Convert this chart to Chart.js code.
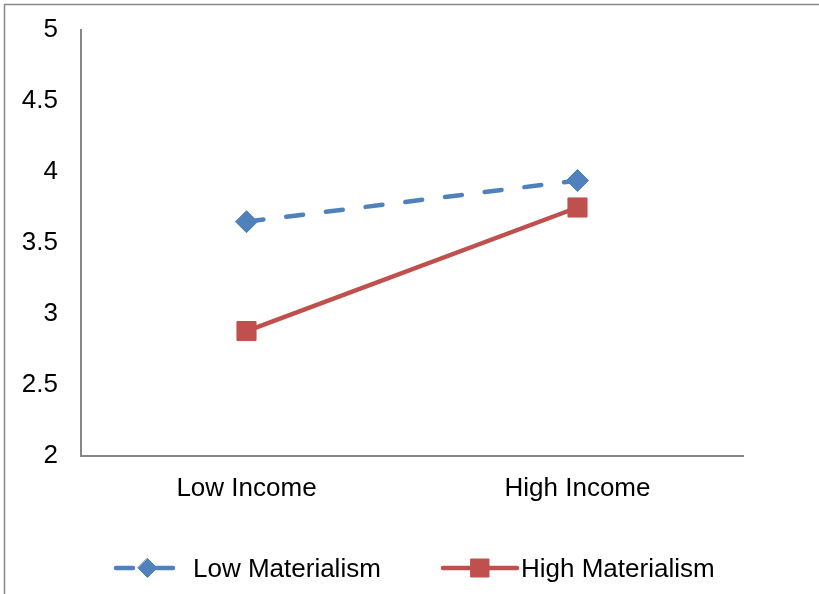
<!DOCTYPE html>
<html>
<head>
<meta charset="utf-8">
<title>Income and Materialism</title>
<script src="https://cdn.jsdelivr.net/npm/chart.js@4/dist/chart.umd.min.js"></script>
<style>
  html, body { margin: 0; padding: 0; background: #fff; }
  canvas { display: block; }
</style>
</head>
<body>
<canvas id="chart" width="819" height="594"></canvas>
<script>
// Categories along the x axis
const categories = ['Low Income', 'High Income'];

// Series names and mean values
const seriesNames = ['Low Materialism', 'High Materialism'];
const lowMaterialism = [3.65, 3.94];
const highMaterialism = [2.88, 3.75];

// Y axis range and step
const yMin = 2;
const yMax = 5;
const yStep = 0.5;

const FONT = 'Liberation Sans, Arial, sans-serif';
const BLUE = '#4F81BD';
const RED = '#C0504D';
const AXIS = '#878787';

// White background with the frame along the top and left edges
const framePlugin = {
  id: 'frame',
  beforeDraw(chart) {
    const ctx = chart.ctx;
    ctx.save();
    ctx.fillStyle = '#ffffff';
    ctx.fillRect(0, 0, chart.width, chart.height);
    ctx.strokeStyle = AXIS;
    ctx.lineWidth = 1.5;
    ctx.strokeRect(4.5, 4.5, chart.width + 20, chart.height + 20);
    ctx.restore();
  }
};

// Legend row under the plot: line sample with marker, then the series name
const legendRow = {
  id: 'legendRow',
  afterDraw(chart) {
    const ctx = chart.ctx;
    const rowY = 568;
    const items = [
      { x0: 116, x1: 179, textX: 193 },
      { x0: 443, x1: 517, textX: 521 }
    ];
    chart.data.datasets.forEach((ds, i) => {
      const it = items[i];
      ctx.save();
      ctx.strokeStyle = ds.borderColor;
      ctx.lineWidth = ds.borderWidth;
      ctx.lineCap = 'round';
      ctx.setLineDash(ds.borderDash || []);
      ctx.beginPath();
      ctx.moveTo(it.x0, rowY);
      ctx.lineTo(it.x1, rowY);
      ctx.stroke();
      ctx.setLineDash([]);
      const cx = (it.x0 + it.x1) / 2;
      ctx.fillStyle = ds.backgroundColor;
      ctx.strokeStyle = ds.borderColor;
      ctx.lineWidth = 1;
      ctx.beginPath();
      if (ds.pointStyle === 'rectRot') {
        const r = ds.legendRadius;
        ctx.moveTo(cx, rowY - r);
        ctx.lineTo(cx + r, rowY);
        ctx.lineTo(cx, rowY + r);
        ctx.lineTo(cx - r, rowY);
      } else {
        const h = ds.legendRadius;
        ctx.rect(cx - h, rowY - h, 2 * h, 2 * h);
      }
      ctx.closePath();
      ctx.fill();
      ctx.stroke();
      ctx.fillStyle = '#000000';
      ctx.font = '26px ' + FONT;
      ctx.textAlign = 'left';
      ctx.textBaseline = 'alphabetic';
      ctx.fillText(ds.label, it.textX, rowY + 9);
      ctx.restore();
    });
  }
};

new Chart(document.getElementById('chart'), {
  type: 'line',
  data: {
    labels: categories,
    datasets: [
      {
        label: seriesNames[0],
        data: lowMaterialism,
        borderColor: BLUE,
        backgroundColor: BLUE,
        borderWidth: 4.5,
        borderDash: [17, 23],
        borderCapStyle: 'round',
        pointStyle: 'rectRot',
        pointRadius: 11,
        pointBorderWidth: 1,
        pointBackgroundColor: BLUE,
        pointBorderColor: BLUE,
        legendRadius: 9.5,
        tension: 0
      },
      {
        label: seriesNames[1],
        data: highMaterialism,
        borderColor: RED,
        backgroundColor: RED,
        borderWidth: 4.5,
        borderCapStyle: 'round',
        pointStyle: 'rect',
        pointRadius: 13.5,
        pointBorderWidth: 1,
        pointBackgroundColor: RED,
        pointBorderColor: RED,
        legendRadius: 9,
        tension: 0
      }
    ]
  },
  options: {
    responsive: false,
    devicePixelRatio: 1,
    animation: false,
    events: [],
    layout: { padding: { top: 30, right: 76, left: 0, bottom: 78 } },
    plugins: {
      legend: { display: false },
      tooltip: { enabled: false },
      title: { display: false }
    },
    scales: {
      x: {
        offset: true,
        grid: { display: false, drawTicks: false },
        border: { display: true, color: AXIS, width: 2 },
        ticks: {
          color: '#000000',
          font: { family: FONT, size: 26 },
          padding: 17,
          maxRotation: 0,
          autoSkip: false
        },
        afterFit(scale) { scale.height = 60; }
      },
      y: {
        min: yMin,
        max: yMax,
        grid: { display: false, drawTicks: false },
        border: { display: true, color: AXIS, width: 2 },
        ticks: {
          stepSize: yStep,
          color: '#000000',
          font: { family: FONT, size: 26 },
          padding: 23,
          callback: (value) => String(Number(value))
        },
        afterFit(scale) {
          scale.width = 81;
          // the top label fits inside the layout padding
          scale.paddingTop = 0;
          scale.paddingBottom = 0;
        }
      }
    }
  },
  plugins: [framePlugin, legendRow]
});
</script>
</body>
</html>
